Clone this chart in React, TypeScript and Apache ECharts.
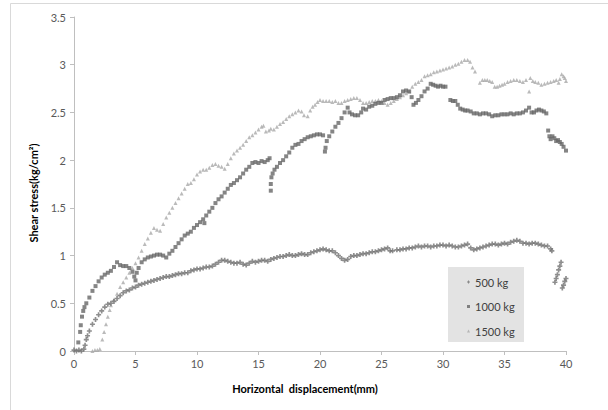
import React, { useEffect, useRef } from "react";
import * as echarts from "echarts";

const seriesNames = ["500 kg", "1000 kg", "1500 kg"];
const xTicks = { min: 0, max: 40, interval: 5 };
const yTicks = { min: 0, max: 3.5, interval: 0.5 };

const s500: number[][] = [
  [0.0,0.01],[0.2,0.0],[0.4,0.01],[0.6,0.0],[0.8,0.02],[0.9,0.06],[1.0,0.12],[1.1,0.16],[1.25,0.21],[1.5,0.28],[1.75,0.33],[2.0,0.38],[2.25,0.42],[2.5,0.46],[2.75,0.49],[3.0,0.5],[3.25,0.52],[3.5,0.55],[3.75,0.58],[4.0,0.61],[4.25,0.63],[4.5,0.64],[4.75,0.66],[5.0,0.67],[5.25,0.69],[5.5,0.7],[5.75,0.71],[6.0,0.72],[6.25,0.73],[6.5,0.74],[6.75,0.75],[7.0,0.76],[7.25,0.77],[7.5,0.78],[7.75,0.78],[8.0,0.79],[8.25,0.8],[8.5,0.81],[8.75,0.81],[9.0,0.82],[9.25,0.82],[9.5,0.84],[9.75,0.85],[10.0,0.86],[10.25,0.86],[10.5,0.87],[10.75,0.88],[11.0,0.88],[11.25,0.89],[11.5,0.91],[11.75,0.93],[12.0,0.95],[12.25,0.95],[12.5,0.94],[12.75,0.93],[13.0,0.92],[13.25,0.92],[13.5,0.93],[13.75,0.91],[14.0,0.9],[14.25,0.92],[14.5,0.94],[14.75,0.93],[15.0,0.94],[15.25,0.95],[15.5,0.95],[15.75,0.94],[16.0,0.96],[16.25,0.97],[16.5,0.98],[16.75,0.99],[17.0,0.99],[17.25,1.0],[17.5,1.01],[17.75,1.0],[18.0,1.0],[18.25,1.01],[18.5,1.02],[18.75,1.01],[19.0,1.01],[19.25,1.03],[19.5,1.04],[19.75,1.05],[20.0,1.06],[20.25,1.07],[20.5,1.06],[20.75,1.05],[21.0,1.05],[21.25,1.03],[21.5,1.0],[21.75,0.97],[22.0,0.95],[22.25,0.96],[22.5,0.99],[22.75,1.0],[23.0,1.0],[23.25,1.01],[23.5,1.02],[23.75,1.02],[24.0,1.03],[24.25,1.04],[24.5,1.04],[24.75,1.05],[25.0,1.06],[25.25,1.07],[25.5,1.08],[25.7,1.05],[25.9,1.05],[26.25,1.06],[26.5,1.06],[26.75,1.07],[27.0,1.07],[27.25,1.08],[27.5,1.08],[27.75,1.09],[28.0,1.1],[28.25,1.09],[28.5,1.1],[28.75,1.1],[29.0,1.09],[29.25,1.1],[29.5,1.1],[29.75,1.11],[30.0,1.11],[30.25,1.1],[30.5,1.11],[30.75,1.1],[31.0,1.09],[31.25,1.09],[31.5,1.1],[31.75,1.11],[32.0,1.12],[32.25,1.08],[32.5,1.06],[32.75,1.07],[33.0,1.08],[33.25,1.09],[33.5,1.1],[33.75,1.11],[34.0,1.12],[34.25,1.12],[34.5,1.11],[34.75,1.12],[35.0,1.13],[35.25,1.12],[35.5,1.14],[35.75,1.15],[36.0,1.16],[36.25,1.15],[36.5,1.13],[36.75,1.13],[37.0,1.12],[37.25,1.13],[37.5,1.13],[37.75,1.12],[38.0,1.11],[38.25,1.1],[38.5,1.1],[38.75,1.07],[38.85,1.05],
  [39.1,0.72],[39.2,0.76],[39.3,0.8],[39.4,0.85],[39.5,0.89],[39.6,0.93],[39.7,0.66],[39.8,0.69],[39.9,0.73],[40.0,0.76]
];

const s1000: number[][] = [
  [0.35,0.09],[0.5,0.2],[0.55,0.27],[0.65,0.36],[0.75,0.42],[0.85,0.46],[1.0,0.5],[1.25,0.56],[1.5,0.63],[1.75,0.68],[2.0,0.73],[2.25,0.77],[2.5,0.8],[2.75,0.82],[3.0,0.84],[3.25,0.88],[3.5,0.93],[3.75,0.9],[4.0,0.89],[4.25,0.89],[4.5,0.87],[4.75,0.83],[4.9,0.78],[5.0,0.74],[5.1,0.82],[5.25,0.87],[5.5,0.93],[5.75,0.96],[6.0,0.98],[6.25,0.99],[6.5,1.0],[6.75,1.01],[7.0,1.01],[7.25,1.0],[7.5,0.98],[7.75,1.02],[8.0,1.05],[8.25,1.09],[8.5,1.13],[8.75,1.17],[9.0,1.21],[9.25,1.23],[9.5,1.25],[9.75,1.29],[10.0,1.32],[10.25,1.35],[10.5,1.38],[10.6,1.34],[10.75,1.42],[11.0,1.46],[11.25,1.5],[11.5,1.55],[11.75,1.59],[12.0,1.62],[12.25,1.66],[12.5,1.7],[12.75,1.74],[13.0,1.76],[13.25,1.79],[13.5,1.82],[13.75,1.86],[14.0,1.9],[14.25,1.93],[14.5,1.97],[14.75,1.98],[15.0,1.97],[15.25,1.99],[15.5,1.98],[15.75,2.0],[15.9,2.02],
  [16.0,1.68],[16.0,1.75],[16.05,1.82],[16.15,1.86],[16.3,1.9],[16.5,1.93],[16.75,1.97],[17.0,2.0],[17.25,2.04],[17.5,2.08],[17.75,2.13],[18.0,2.16],[18.25,2.17],[18.5,2.2],[18.75,2.22],[19.0,2.24],[19.25,2.25],[19.5,2.26],[19.75,2.27],[20.0,2.27],[20.25,2.26],
  [20.4,2.09],[20.45,2.13],[20.55,2.2],[20.75,2.25],[21.0,2.3],[21.25,2.35],[21.5,2.39],[21.75,2.44],[22.0,2.5],[22.25,2.55],[22.4,2.5],[22.6,2.48],[22.85,2.47],[23.1,2.47],[23.35,2.5],[23.5,2.54],[23.75,2.53],[24.0,2.56],[24.25,2.57],[24.5,2.59],[24.75,2.6],[25.0,2.6],[25.25,2.63],[25.5,2.64],[25.75,2.65],[26.0,2.65],[26.25,2.66],[26.5,2.68],[26.75,2.72],[27.0,2.73],[27.25,2.72],[27.45,2.66],[27.6,2.58],[27.8,2.6],[28.0,2.63],[28.25,2.67],[28.5,2.72],[28.75,2.75],[29.0,2.8],[29.2,2.79],[29.4,2.78],[29.6,2.77],[29.8,2.78],[30.0,2.77],[30.2,2.77],
  [30.6,2.63],[30.8,2.62],[31.0,2.62],[31.2,2.58],[31.4,2.54],[31.6,2.53],[31.8,2.52],[32.0,2.52],[32.25,2.51],[32.5,2.49],[32.75,2.49],[33.0,2.48],[33.25,2.49],[33.5,2.49],[33.75,2.48],[34.0,2.46],[34.25,2.47],[34.5,2.47],[34.75,2.48],[35.0,2.48],[35.25,2.48],[35.5,2.49],[35.75,2.48],[36.0,2.49],[36.25,2.49],[36.5,2.5],[36.75,2.52],[37.0,2.55],[37.2,2.5],[37.4,2.5],[37.6,2.52],[37.8,2.53],[38.0,2.52],[38.2,2.51],[38.4,2.49],
  [38.55,2.31],[38.65,2.25],[38.75,2.22],[38.9,2.25],[39.05,2.23],[39.2,2.2],[39.35,2.21],[39.5,2.19],[39.65,2.17],[39.8,2.14],[40.0,2.1]
];

const s1500: number[][] = [
  [1.5,0.0],[1.7,0.01],[1.9,0.01],[2.1,0.02],[2.3,0.12],[2.45,0.2],[2.6,0.28],[2.75,0.36],[2.9,0.43],[3.0,0.48],[3.25,0.54],[3.5,0.6],[3.75,0.67],[4.0,0.72],[4.25,0.77],[4.5,0.82],[4.75,0.87],[5.0,0.92],[5.25,0.98],[5.5,1.05],[5.75,1.12],[6.0,1.18],[6.25,1.24],[6.5,1.29],[6.75,1.27],[7.0,1.26],[7.25,1.33],[7.5,1.4],[7.75,1.45],[8.0,1.5],[8.25,1.55],[8.5,1.6],[8.75,1.65],[9.0,1.7],[9.25,1.75],[9.5,1.76],[9.75,1.8],[10.0,1.85],[10.25,1.88],[10.5,1.9],[10.75,1.9],[11.0,1.92],[11.25,1.95],[11.5,1.96],[11.75,1.94],[12.0,1.93],[12.25,1.91],[12.5,1.96],[12.75,2.02],[13.0,2.07],[13.25,2.1],[13.5,2.13],[13.75,2.16],[14.0,2.2],[14.25,2.24],[14.5,2.26],[14.75,2.29],[15.0,2.32],[15.25,2.35],[15.4,2.36],[15.6,2.3],[15.85,2.31],[16.0,2.33],[16.25,2.32],[16.5,2.35],[16.75,2.38],[17.0,2.4],[17.25,2.43],[17.5,2.46],[17.75,2.48],[18.0,2.5],[18.25,2.52],[18.5,2.51],[18.7,2.47],
  [19.0,2.46],[19.2,2.52],[19.4,2.56],[19.6,2.58],[19.8,2.61],[20.0,2.63],[20.25,2.62],[20.5,2.62],[20.75,2.62],[21.0,2.61],[21.25,2.62],[21.5,2.6],[21.75,2.6],[22.0,2.62],[22.25,2.63],[22.5,2.64],[22.75,2.65],[23.0,2.65],[23.25,2.63],[23.5,2.6],[23.75,2.6],[24.0,2.61],[24.25,2.62],[24.5,2.62],[24.75,2.63],[25.0,2.62],[25.25,2.6],[25.5,2.58],[25.75,2.6],[26.0,2.62],[26.25,2.64],[26.5,2.66],[26.75,2.68],[27.0,2.7],[27.25,2.72],[27.5,2.77],[27.75,2.8],[28.0,2.82],[28.25,2.84],[28.5,2.88],[28.75,2.89],[29.0,2.9],[29.25,2.92],[29.5,2.93],[29.75,2.94],[30.0,2.95],[30.25,2.96],[30.5,2.97],[30.75,2.98],[31.0,3.0],[31.25,3.01],[31.5,3.03],[31.75,3.05],[32.0,3.05],[32.2,3.03],[32.4,2.97],[32.6,2.93],
  [33.0,2.81],[33.2,2.84],[33.4,2.84],[33.6,2.84],[33.8,2.83],[34.0,2.82],[34.2,2.77],[34.4,2.77],[34.6,2.78],[34.8,2.79],[35.0,2.8],[35.25,2.82],[35.5,2.83],[35.75,2.84],[36.0,2.84],[36.25,2.83],[36.5,2.82],[36.75,2.84],[37.0,2.72],[37.1,2.86],[37.3,2.83],[37.5,2.82],[37.75,2.81],[38.0,2.79],[38.25,2.8],[38.5,2.81],[38.75,2.82],[39.0,2.83],[39.2,2.84],[39.4,2.81],[39.5,2.85],[39.65,2.9],[39.8,2.88],[39.9,2.86],[40.0,2.83]
];

const FONT = "Lato, 'Open Sans', sans-serif";
const PLUS = "path://M2,0H4V2H6V4H4V6H2V4H0V2H2Z";

export default function App() {
  const ref = useRef<HTMLDivElement>(null);
  useEffect(() => {
    document.body.style.margin = "0";
    if (!ref.current) return;
    const chart = echarts.init(ref.current, null, { renderer: "svg" });
    chart.setOption({
      animation: false,
      backgroundColor: "#ffffff",
      grid: { left: 74, right: 42, top: 17, bottom: 59 },
      xAxis: {
        type: "value",
        min: xTicks.min,
        max: xTicks.max,
        interval: xTicks.interval,
        splitLine: { show: false },
        axisLine: { lineStyle: { color: "#bfbfbf", width: 1 } },
        axisTick: { show: true, length: 4, lineStyle: { color: "#bfbfbf" } },
        axisLabel: { color: "#595959", fontSize: 11, fontFamily: FONT, margin: 7 },
      },
      yAxis: {
        type: "value",
        min: yTicks.min,
        max: yTicks.max,
        interval: yTicks.interval,
        splitLine: { show: false },
        axisLine: { show: true, lineStyle: { color: "#bfbfbf", width: 1 } },
        axisTick: { show: true, length: 4, lineStyle: { color: "#bfbfbf" } },
        axisLabel: { color: "#595959", fontSize: 11, fontFamily: FONT, margin: 8 },
      },
      legend: {
        data: seriesNames,
        orient: "vertical",
        left: 465,
        top: 273,
        itemWidth: 3,
        itemHeight: 3,
        itemGap: 10.5,
        padding: 2,
        textStyle: { color: "#404040", fontSize: 11, fontFamily: FONT, lineHeight: 14, padding: [0, 0, 0, 0] },
      },
      graphic: [
        {
          type: "rect",
          silent: true,
          z: -10,
          shape: { x: 10.5, y: 3.5, width: 700, height: 500 },
          style: { fill: "none", stroke: "#d9d9d9", lineWidth: 1 },
        },
        {
          type: "rect",
          silent: true,
          z: 0,
          shape: { x: 448, y: 267, width: 76, height: 75 },
          style: { fill: "#e3e3e3" },
        },
        {
          type: "text",
          x: 305,
          y: 388,
          style: {
            text: "Horizontal  displacement(mm)",
            fill: "#000000",
            font: "bold 11px " + FONT,
            align: "center",
            verticalAlign: "middle",
          },
        },
        {
          type: "text",
          x: 33,
          y: 193,
          rotation: Math.PI / 2,
          style: {
            text: "Shear stress(kg/cm²)",
            fill: "#000000",
            font: "bold 11px " + FONT,
            align: "center",
            verticalAlign: "middle",
          },
        },
      ],
      series: [
        {
          name: seriesNames[0],
          type: "scatter",
          data: s500,
          symbol: PLUS,
          symbolSize: 5,
          itemStyle: { color: "#727272" },
          z: 3,
        },
        {
          name: seriesNames[1],
          type: "scatter",
          data: s1000,
          symbol: "rect",
          symbolSize: 4,
          itemStyle: { color: "#666666" },
          z: 4,
        },
        {
          name: seriesNames[2],
          type: "scatter",
          data: s1500,
          symbol: "triangle",
          symbolSize: 4,
          itemStyle: { color: "#a9a9a9" },
          z: 2,
        },
      ],
    });
    return () => chart.dispose();
  }, []);
  return <div ref={ref} style={{ width: 608, height: 410 }} />;
}
